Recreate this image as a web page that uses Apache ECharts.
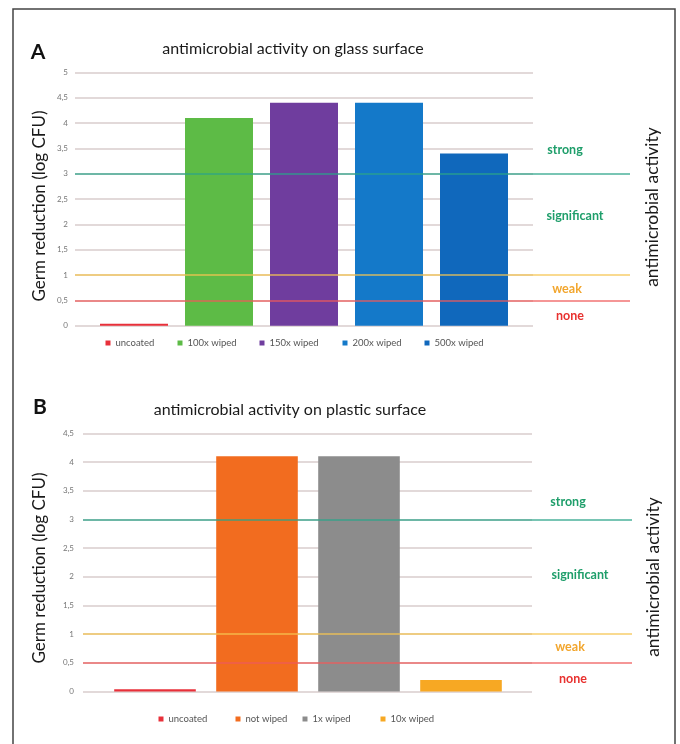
<!DOCTYPE html>
<html><head><meta charset="utf-8">
<script src="https://cdn.jsdelivr.net/npm/echarts@6/dist/echarts.min.js"></script>
<style>html,body{margin:0;padding:0;background:#fff}#c{width:680px;height:744px}</style>
</head><body><div id="c"></div>
<script>
// ---- data ----
const glassCategories = ['uncoated', '100x wiped', '150x wiped', '200x wiped', '500x wiped'];
const glassValues = [0.04, 4.1, 4.4, 4.4, 3.4];
const glassYMax = 5;
const plasticCategories = ['uncoated', 'not wiped', '1x wiped', '10x wiped'];
const plasticValues = [0.04, 4.1, 4.1, 0.2];
const plasticYMax = 4.5;
const yStep = 0.5;
const thresholds = [3, 1, 0.5];
const zoneLabels = ['strong', 'significant', 'weak', 'none'];
const titles = ['antimicrobial activity on glass surface', 'antimicrobial activity on plastic surface'];
const panelLetters = ['A', 'B'];
const yAxisName = 'Germ reduction (log CFU)';
const rightName = 'antimicrobial activity';

// ---- styles ----
const glassColors = ['#E8303A', '#5DBB46', '#6F3D9E', '#1479C9', '#1068BC'];
const plasticColors = ['#E8303A', '#F26C1F', '#8C8C8C', '#F7A823'];
const thresholdColors = ['#2BA38A', '#F5C451', '#EE5A5A'];
const zoneColors = ['#1E9E6A', '#1E9E6A', '#F2A62E', '#E8312F'];
const FONT = 'Lato, "Open Sans", "Noto Sans", sans-serif';

const panels = [
  { cats: glassCategories, vals: glassValues, colors: glassColors, max: glassYMax,
    top: 72.3, height: 253.4, gridL: 75, gridR: 533, barL: 91.5, barW: 425, thrR: 630, labelMargin: 7,
    legendX: [108, 180, 262, 345, 427], legendY: 338,
    letter: [38, 52], title: [293, 49], yName: [40, 206], rName: [652, 207],
    zones: [[565, 150], [575, 216], [567, 289], [570, 316]] },
  { cats: plasticCategories, vals: plasticValues, colors: plasticColors, max: plasticYMax,
    top: 433.3, height: 258.2, gridL: 83, gridR: 532, barL: 104, barW: 408, thrR: 632, labelMargin: 9,
    legendX: [161, 238, 305, 383], legendY: 714,
    letter: [40, 407], title: [290, 410], yName: [40, 568], rName: [653, 577],
    zones: [[568, 502], [580, 575], [570, 647], [573, 679]] }
];

const grid = [], xAxis = [], yAxis = [], series = [], legend = [], graphic = [];

graphic.push({ type: 'rect', shape: { x: 13, y: 9, width: 662, height: 780 },
  style: { fill: 'none', stroke: '#444', lineWidth: 1.5 }, silent: true });

panels.forEach((p, i) => {
  const base = i * 3;
  grid.push({ left: p.gridL, width: p.gridR - p.gridL, top: p.top, height: p.height, containLabel: false });
  grid.push({ left: p.barL, width: p.barW, top: p.top, height: p.height, containLabel: false });
  grid.push({ left: p.gridL, width: p.thrR - p.gridL, top: p.top, height: p.height, containLabel: false });

  xAxis.push({ type: 'value', gridIndex: base, min: 0, max: 1, show: false });
  xAxis.push({ type: 'category', gridIndex: base + 1, data: p.cats, show: false });
  xAxis.push({ type: 'value', gridIndex: base + 2, min: 0, max: 1, show: false });

  yAxis.push({ type: 'value', gridIndex: base, min: 0, max: p.max, interval: yStep,
    axisLine: { show: false }, axisTick: { show: false },
    axisLabel: { fontSize: 8, color: '#777', fontFamily: FONT, margin: p.labelMargin,
      formatter: v => String(v).replace('.', ',') },
    splitLine: { show: true, lineStyle: { color: '#d8cccc', width: 1.5 } } });
  yAxis.push({ type: 'value', gridIndex: base + 1, min: 0, max: p.max, show: false, splitLine: { show: false } });
  yAxis.push({ type: 'value', gridIndex: base + 2, min: 0, max: p.max, show: false, splitLine: { show: false } });

  p.cats.forEach((c, k) => {
    series.push({ type: 'bar', name: c, xAxisIndex: base + 1, yAxisIndex: base + 1, stack: 'p' + i,
      barWidth: '80%', silent: true,
      data: p.vals.map((v, j) => j === k ? v : '-'),
      itemStyle: { color: p.colors[k] } });
    legend.push({ data: [c], left: p.legendX[k] - 2.5, top: p.legendY, icon: 'rect',
      itemWidth: 5, itemHeight: 5, itemGap: 0, padding: 0, selectedMode: false,
      textStyle: { fontSize: 9.5, color: '#555', fontFamily: FONT, padding: [0, 0, 0, 0] } });
  });

  series.push({ type: 'line', name: 'thr' + i, xAxisIndex: base + 2, yAxisIndex: base + 2, data: [], silent: true, z: 5,
    markLine: { silent: true, symbol: 'none', animation: false, label: { show: false },
      data: thresholds.map((t, j) => ({ yAxis: t, lineStyle: { color: thresholdColors[j], width: 1.5, type: 'solid', opacity: 0.85 } })) } });

  graphic.push({ type: 'text', x: p.letter[0], y: p.letter[1], silent: true,
    style: { text: panelLetters[i], font: 'bold 21px ' + FONT, fill: '#111', textAlign: 'center', textVerticalAlign: 'middle' } });
  graphic.push({ type: 'text', x: p.title[0], y: p.title[1], silent: true,
    style: { text: titles[i], font: '16px ' + FONT, fill: '#1a1a1a', textAlign: 'center', textVerticalAlign: 'middle' } });
  graphic.push({ type: 'text', x: p.yName[0], y: p.yName[1], rotation: Math.PI / 2, silent: true,
    style: { text: yAxisName, font: '17px ' + FONT, fill: '#1a1a1a', textAlign: 'center', textVerticalAlign: 'middle' } });
  graphic.push({ type: 'text', x: p.rName[0], y: p.rName[1], rotation: Math.PI / 2, silent: true,
    style: { text: rightName, font: '17.5px ' + FONT, fill: '#1a1a1a', textAlign: 'center', textVerticalAlign: 'middle' } });
  zoneLabels.forEach((z, k) => {
    graphic.push({ type: 'text', x: p.zones[k][0], y: p.zones[k][1], silent: true,
      style: { text: z, font: 'bold 12.5px ' + FONT, fill: zoneColors[k], textAlign: 'center', textVerticalAlign: 'middle' } });
  });
});

const chart = echarts.init(document.getElementById('c'));
chart.setOption({ animation: false, backgroundColor: '#fff', grid, xAxis, yAxis, series, legend, graphic });
</script></body></html>
